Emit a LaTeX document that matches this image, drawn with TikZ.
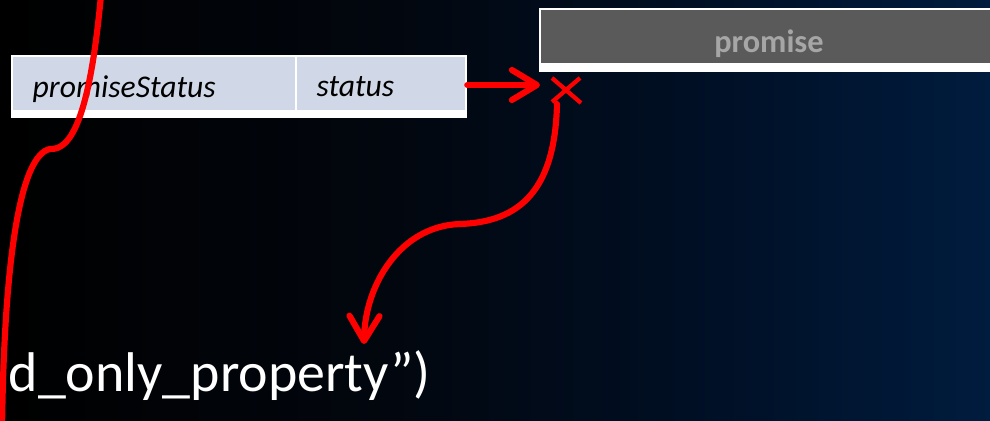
\documentclass[tikz,border=0pt]{standalone}
\usepackage{fontspec}
\setmainfont{Carlito}
\usetikzlibrary{arrows.meta}
\definecolor{bgA}{HTML}{000000}
\definecolor{bgB}{HTML}{02070F}
\definecolor{bgC}{HTML}{000F24}
\definecolor{bgD}{HTML}{001C3E}
\definecolor{cellc}{HTML}{D0D8E8}
\definecolor{boxc}{HTML}{5A5A5A}
\definecolor{boxtxt}{HTML}{A6A6A6}
\definecolor{redl}{HTML}{FF0000}
\pgfdeclarehorizontalshading{bgshade}{100bp}{color(0bp)=(bgA); color(25bp)=(bgA); color(45bp)=(bgB); color(60bp)=(bgC); color(75bp)=(bgD); color(100bp)=(bgD)}
\tikzset{
  box/.style={inner sep=0pt, outer sep=0pt, anchor=north west},
  whitebox/.style={box, fill=white},
  cell/.style={box, fill=cellc},
  cellt/.style={inner sep=0pt, anchor=base west, text=black, font=\fontsize{9pt}{10pt}\selectfont\itshape},
  redline/.style={draw=redl, line width=1.75pt, line cap=round, line join=round},
  redarrow/.style={redline, -{Straight Barb[length=2.5mm,width=3mm,round]}},
  xmk/.style={draw=redl, line width=1.2pt}
}
\begin{document}
\begin{tikzpicture}[x=0.01cm,y=-0.01cm]
\fill[shading=bgshade] (0,0) rectangle (990,421);
\useasboundingbox (0,0) rectangle (990,421);
% table
\node[whitebox, minimum width=4.56cm, minimum height=0.63cm] (tbl) at (11,55) {};
\node[cell, minimum width=2.82cm, minimum height=0.53cm] (c1) at (13,57) {};
\node[cell, minimum width=1.68cm, minimum height=0.53cm] (c2) at (297,57) {};
\node[cellt] (t1) at (32,97) {promiseStatus};
\node[cellt] (t2) at (316,96) {status};
% promise box
\node[whitebox, minimum width=4.6cm, minimum height=0.64cm] (pbw) at (539,8) {};
\node[box, fill=boxc, minimum width=4.6cm, minimum height=0.53cm] (pb) at (541,10) {};
\node[inner sep=0pt, anchor=base, text=boxtxt, font=\fontsize{9.2pt}{11pt}\selectfont\bfseries] (pt) at (769,52) {promise};
% big text
\node[inner sep=0pt, anchor=base west, text=white, font=\fontsize{15.9pt}{19pt}\selectfont] (big) at (8,391) {d\_only\_property”)};
% X mark
\coordinate (xm) at (566,91);
\draw[xmk] (xm) ++(-14,-13) -- ++(29,25);
\draw[xmk] (xm) ++(14,-13) -- ++(-28,24);
\coordinate (xin) at (540,85);
\coordinate (xout) at (557,104);
\coordinate (tip) at (364,344);
% arrows
\draw[redarrow] (tbl.east |- 0,85) -- (xin);
\draw[redarrow] (xout) .. controls (555,190) and (520,222) .. (460,224) .. controls (400,226) and (365,285) .. (tip);
% left curve
\coordinate (ltop) at (101,-5);
\coordinate (lbot) at (2,430);
\draw[redline] (ltop) .. controls (95,60) and (85,122) .. (66,142) .. controls (60,148) and (56,149) .. (50,149) .. controls (20,155) and (4,260) .. (lbot);
\end{tikzpicture}
\end{document}
